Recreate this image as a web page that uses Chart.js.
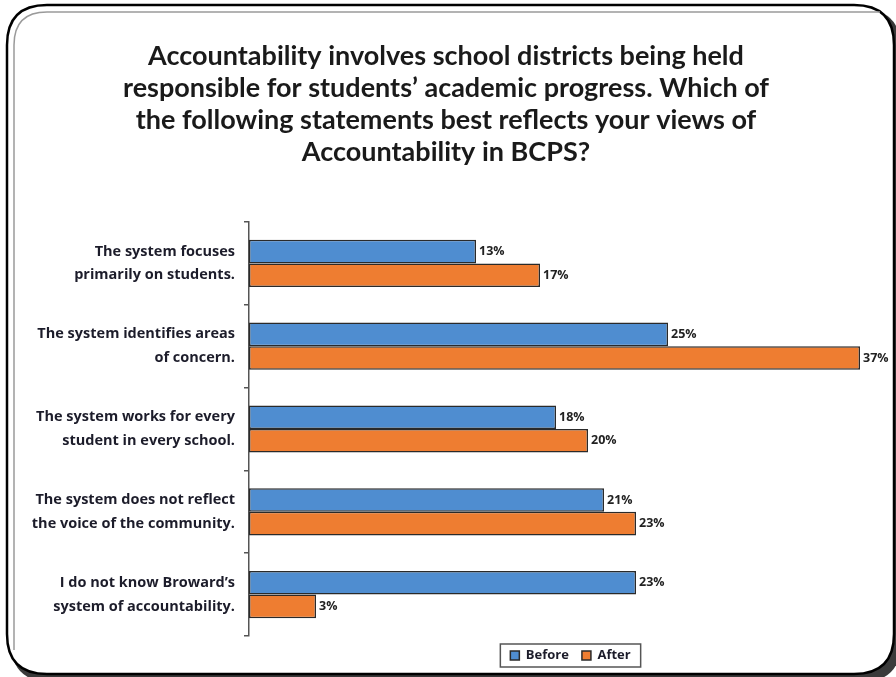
<!DOCTYPE html>
<html>
<head>
<meta charset="utf-8">
<script src="https://cdn.jsdelivr.net/npm/chart.js@4.4.1/dist/chart.umd.min.js"></script>
<style>
  html, body { margin: 0; padding: 0; background: #ffffff; }
  #wrap { width: 896px; height: 677px; }
</style>
</head>
<body>
<div id="wrap"><canvas id="c" width="896" height="677"></canvas></div>
<script>
const titleLines = [
  "Accountability involves school districts being held",
  "responsible for students\u2019 academic progress. Which of",
  "the following statements best reflects your views of",
  "Accountability in BCPS?"
];
const categories = [
  ["The system focuses", "primarily on students."],
  ["The system identifies areas", "of concern."],
  ["The system works for every", "student in every school."],
  ["The system does not reflect", "the voice of the community."],
  ["I do not know Broward\u2019s", "system of accountability."]
];
const seriesNames = ["Before", "After"];
const beforeValues = [13, 25, 18, 21, 23];
const afterValues = [17, 37, 20, 23, 3];
const seriesColors = ["#4F8DD0", "#EE7D31"];

const TITLE_FONT = "Lato, 'Open Sans', sans-serif";
const FONT = "'Open Sans', Lato, sans-serif";

function rr(ctx, x, y, w, h, r) {
  ctx.beginPath();
  ctx.moveTo(x + r, y);
  ctx.lineTo(x + w - r, y);
  ctx.quadraticCurveTo(x + w, y, x + w, y + r);
  ctx.lineTo(x + w, y + h - r);
  ctx.quadraticCurveTo(x + w, y + h, x + w - r, y + h);
  ctx.lineTo(x + r, y + h);
  ctx.quadraticCurveTo(x, y + h, x, y + h - r);
  ctx.lineTo(x, y + r);
  ctx.quadraticCurveTo(x, y, x + r, y);
  ctx.closePath();
}

const framePlugin = {
  id: 'frame',
  beforeDraw(chart) {
    const ctx = chart.ctx;
    ctx.save();
    ctx.fillStyle = '#ffffff';
    ctx.fillRect(0, 0, chart.width, chart.height);
    ctx.fillStyle = '#3a3a3a';
    rr(ctx, 11, 9, 890, 673, 40);
    ctx.fill();
    ctx.fillStyle = '#ffffff';
    rr(ctx, 7, 5, 887, 669, 40);
    ctx.fill();
    ctx.lineWidth = 2.5;
    ctx.strokeStyle = '#000000';
    ctx.stroke();
    ctx.lineWidth = 1.5;
    ctx.strokeStyle = '#9a9a9a';
    ctx.beginPath();
    ctx.moveTo(14, 650);
    ctx.lineTo(14, 45);
    ctx.quadraticCurveTo(14, 12, 47, 12);
    ctx.lineTo(880, 12);
    ctx.stroke();
    ctx.restore();
  }
};

const labelPlugin = {
  id: 'valueLabels',
  afterDatasetsDraw(chart) {
    const ctx = chart.ctx;
    ctx.save();
    ctx.font = "bold 12.5px " + FONT;
    ctx.fillStyle = '#222222';
    ctx.textBaseline = 'middle';
    ctx.textAlign = 'left';
    chart.data.datasets.forEach((ds, di) => {
      const meta = chart.getDatasetMeta(di);
      meta.data.forEach((bar, i) => {
        ctx.fillText(ds.data[i] + '%', bar.x + 3, bar.y);
      });
    });
    ctx.restore();
  }
};

const legendBoxPlugin = {
  id: 'legendBox',
  afterDraw(chart) {
    const lg = chart.legend;
    if (!lg || !lg.legendHitBoxes || !lg.legendHitBoxes.length) return;
    let l = Infinity, r = -Infinity, t = Infinity, b = -Infinity;
    lg.legendHitBoxes.forEach(h => {
      l = Math.min(l, h.left); r = Math.max(r, h.left + h.width);
      t = Math.min(t, h.top); b = Math.max(b, h.top + h.height);
    });
    const ctx = chart.ctx;
    ctx.save();
    ctx.strokeStyle = '#555555';
    ctx.lineWidth = 1.5;
    ctx.strokeRect(l - 10, t - 5, (r - l) + 20, (b - t) + 10);
    ctx.restore();
  }
};

new Chart(document.getElementById('c'), {
  type: 'bar',
  data: {
    labels: categories,
    datasets: [
      { label: seriesNames[0], data: beforeValues, backgroundColor: seriesColors[0] },
      { label: seriesNames[1], data: afterValues, backgroundColor: seriesColors[1] }
    ]
  },
  options: {
    indexAxis: 'y',
    responsive: false,
    animation: false,
    layout: { padding: { left: 0, right: 4, top: 0, bottom: 5 } },
    datasets: {
      bar: {
        base: -1.19,
        borderColor: '#2a2a2a',
        borderWidth: 1.5,
        borderSkipped: false,
        categoryPercentage: 0.57,
        barPercentage: 1.0
      }
    },
    scales: {
      x: {
        display: false,
        min: -1.19,
        max: 39
      },
      y: {
        offset: true,
        afterFit(scale) { scale.width = 249; },
        grid: {
          display: true,
          drawOnChartArea: false,
          drawTicks: true,
          tickLength: 5,
          color: '#555555',
          lineWidth: 1.5
        },
        border: { display: true, color: '#555555', width: 1.5 },
        ticks: {
          padding: 9,
          color: '#1c1c2a',
          font: { family: FONT, size: 14.5, weight: 'bold', lineHeight: 1.65 }
        }
      }
    },
    plugins: {
      title: {
        display: true,
        text: titleLines,
        color: '#1a1a1a',
        font: { family: TITLE_FONT, size: 27, weight: 'bold', lineHeight: 1.185 },
        padding: { top: 40, bottom: 54 }
      },
      legend: {
        display: true,
        position: 'bottom',
        fullSize: false,
        labels: {
          boxWidth: 9,
          boxHeight: 9,
          padding: 13,
          color: '#1c1c2a',
          font: { family: FONT, size: 13, weight: 'bold' }
        }
      },
      tooltip: { enabled: false }
    }
  },
  plugins: [framePlugin, labelPlugin, legendBoxPlugin]
});
</script>
</body>
</html>
